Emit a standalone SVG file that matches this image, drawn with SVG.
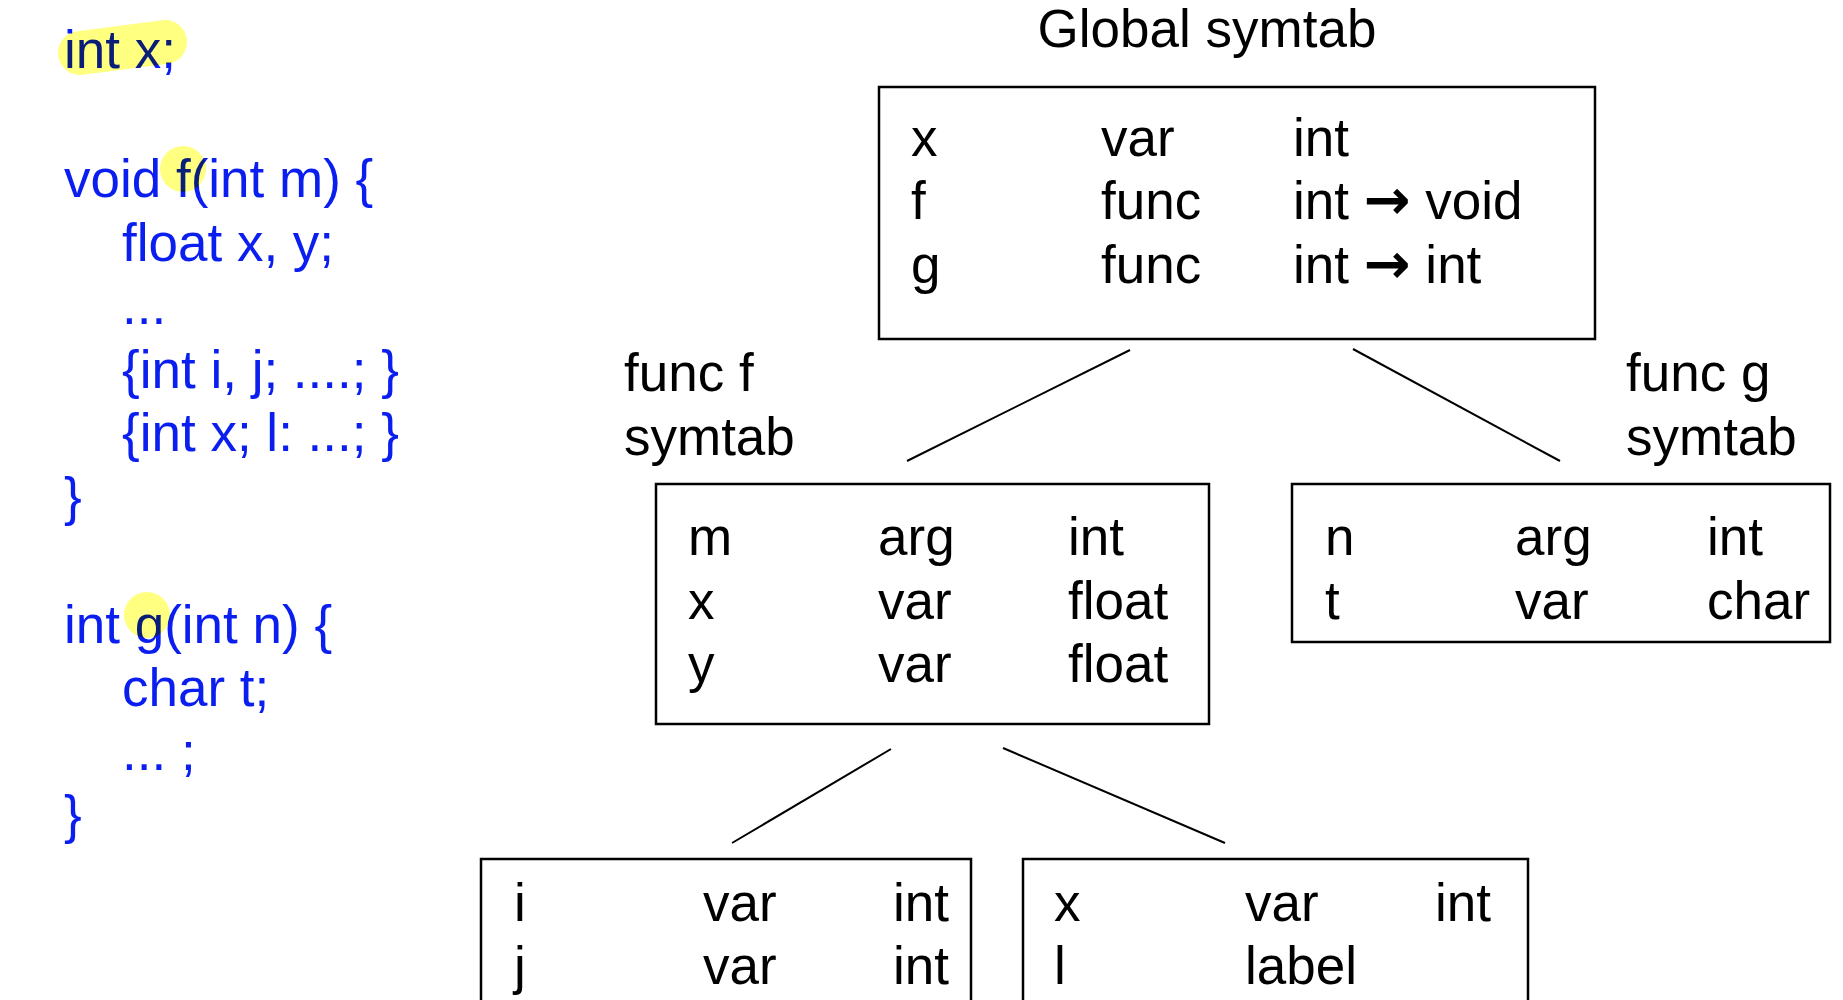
<svg xmlns="http://www.w3.org/2000/svg" width="1843" height="1000" viewBox="0 0 1843 1000">
  <style>
    text { font-family: "Liberation Sans", Arial, sans-serif; font-size: 53px; }
    .code { fill: #0a1ef0; }
    .tab { fill: #000; }
    .box { fill: none; stroke: #000; stroke-width: 2.5; }
    .link { stroke: #000; stroke-width: 2; fill: none; }
    .hl { fill: #ffff80; stroke: none; mix-blend-mode: multiply; }
    .hlband { fill: none; stroke: #ffff80; stroke-linecap: round; mix-blend-mode: multiply; }
    .arr { font-family: "DejaVu Sans", sans-serif; font-weight: bold; font-size: 56px; }
  </style>

  <rect width="1843" height="1000" fill="#fff"/>

  <!-- source program -->
  <g id="code">
    <text class="code" x="64" y="68">int x;</text>
    <text class="code" x="64" y="197">void f(int m) {</text>
    <text class="code" x="122" y="261">float x, y;</text>
    <text class="code" x="122" y="324">...</text>
    <text class="code" x="122" y="388">{int i, j; ....; }</text>
    <text class="code" x="122" y="451">{int x; l: ...; }</text>
    <text class="code" x="64" y="515">}</text>
    <text class="code" x="64" y="643">int g(int n) {</text>
    <text class="code" x="122" y="706">char t;</text>
    <text class="code" x="122" y="770">... ;</text>
    <text class="code" x="64" y="833">}</text>
    <!-- marker highlights -->
    <line class="hlband" x1="80" y1="53" x2="165" y2="42" stroke-width="44"/>
    <circle class="hl" cx="183" cy="169" r="23"/>
    <circle class="hl" cx="147" cy="615" r="23"/>
  </g>

  <!-- scope tree links -->
  <g id="connectors">
    <line class="link" x1="1130" y1="350" x2="907" y2="461"/>
    <line class="link" x1="1353" y1="349" x2="1560" y2="461"/>
    <line class="link" x1="891" y1="749" x2="732" y2="843"/>
    <line class="link" x1="1003" y1="748" x2="1225" y2="843"/>
  </g>

  <g id="global-symtab">
    <text class="tab" x="1207" y="47" text-anchor="middle">Global symtab</text>
    <rect class="box" x="879" y="87" width="716" height="252"/>
    <text class="tab" x="911" y="156">x</text>
    <text class="tab" x="1101" y="156">var</text>
    <text class="tab" x="1293" y="156">int</text>
    <text class="tab" x="911" y="219">f</text>
    <text class="tab" x="1101" y="219">func</text>
    <text class="tab" x="1293" y="219">int <tspan class="arr">→</tspan> void</text>
    <text class="tab" x="911" y="283">g</text>
    <text class="tab" x="1101" y="283">func</text>
    <text class="tab" x="1293" y="283">int <tspan class="arr">→</tspan> int</text>
  </g>

  <g id="f-symtab">
    <text class="tab" x="624" y="391">func f</text>
    <text class="tab" x="624" y="455">symtab</text>
    <rect class="box" x="656" y="484" width="553" height="240"/>
    <text class="tab" x="688" y="555">m</text>
    <text class="tab" x="878" y="555">arg</text>
    <text class="tab" x="1068" y="555">int</text>
    <text class="tab" x="688" y="619">x</text>
    <text class="tab" x="878" y="619">var</text>
    <text class="tab" x="1068" y="619">float</text>
    <text class="tab" x="688" y="682">y</text>
    <text class="tab" x="878" y="682">var</text>
    <text class="tab" x="1068" y="682">float</text>
  </g>

  <g id="g-symtab">
    <text class="tab" x="1626" y="391">func g</text>
    <text class="tab" x="1626" y="455">symtab</text>
    <rect class="box" x="1292" y="484" width="538" height="158"/>
    <text class="tab" x="1325" y="555">n</text>
    <text class="tab" x="1515" y="555">arg</text>
    <text class="tab" x="1707" y="555">int</text>
    <text class="tab" x="1325" y="619">t</text>
    <text class="tab" x="1515" y="619">var</text>
    <text class="tab" x="1707" y="619">char</text>
  </g>

  <g id="block1-symtab">
    <rect class="box" x="481" y="859" width="490" height="160"/>
    <text class="tab" x="514" y="921">i</text>
    <text class="tab" x="703" y="921">var</text>
    <text class="tab" x="893" y="921">int</text>
    <text class="tab" x="514" y="984">j</text>
    <text class="tab" x="703" y="984">var</text>
    <text class="tab" x="893" y="984">int</text>
  </g>

  <g id="block2-symtab">
    <rect class="box" x="1023" y="859" width="505" height="160"/>
    <text class="tab" x="1054" y="921">x</text>
    <text class="tab" x="1245" y="921">var</text>
    <text class="tab" x="1435" y="921">int</text>
    <text class="tab" x="1054" y="984">l</text>
    <text class="tab" x="1245" y="984">label</text>
  </g>
</svg>
